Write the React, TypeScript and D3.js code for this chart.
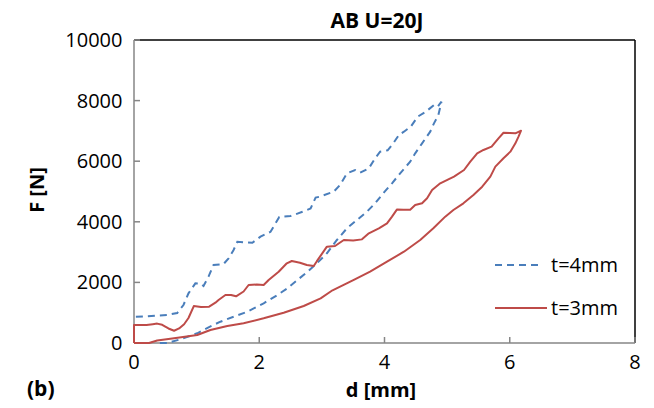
import React from "react";
import * as d3 from "d3";

const title = "AB U=20J";
const xLabel = "d [mm]";
const yLabel = "F [N]";
const panelLabel = "(b)";
const xTicks = [0, 2, 4, 6, 8];
const yTicks = [0, 2000, 4000, 6000, 8000, 10000];

const seriesNames = ["t=4mm", "t=3mm"];

// t=4mm: loading branch then unloading branch
const d4 = [
  0.03, 0.2, 0.53, 0.69, 0.79, 0.87, 0.98, 1.06, 1.11, 1.19, 1.27, 1.43, 1.51, 1.59, 1.65, 1.89, 2.02, 2.18, 2.32, 2.5, 2.69, 2.82, 2.9, 2.97, 3.19, 3.29, 3.4, 3.53, 3.61, 3.75, 3.85, 3.93, 4.05, 4.14, 4.23, 4.31, 4.42, 4.53, 4.66, 4.79, 4.85, 4.91,
  4.88, 4.86, 4.79, 4.73, 4.6, 4.49, 4.41, 4.25, 4.12, 3.98, 3.85, 3.72, 3.56, 3.4, 3.24, 3.08, 2.92, 2.77, 2.61, 2.45, 2.29, 2.07, 1.81, 1.59, 1.38, 1.19, 1.01, 0.74, 0.53, 0.4,
];
const f4 = [
  868, 880, 924, 990, 1254, 1640, 1970, 1960, 1880, 2190, 2574, 2607, 2795, 3070, 3340, 3310, 3510, 3670, 4160, 4190, 4330, 4440, 4800, 4830, 4995, 5215, 5600, 5710, 5620, 5765, 6095, 6315, 6360, 6590, 6865, 6974, 7139, 7469, 7634, 7855, 7800, 7964,
  7700, 7525, 7250, 6974, 6590, 6260, 5985, 5600, 5270, 4940, 4610, 4335, 4060, 3785, 3400, 2960, 2630, 2353, 2080, 1805, 1584, 1310, 1033, 868, 703, 518, 320, 120, 0, 0,
];

// t=3mm: loading branch then unloading branch
const d3mm = [
  0, 0, 0.2, 0.3, 0.37, 0.45, 0.55, 0.64, 0.72, 0.8, 0.87, 0.955, 1.07, 1.2, 1.3, 1.35, 1.46, 1.55, 1.63, 1.75, 1.83, 1.96, 2.07, 2.15, 2.31, 2.44, 2.52, 2.65, 2.76, 2.87, 2.92, 2.97, 3.08, 3.21, 3.35, 3.5, 3.64, 3.75, 3.91, 4.04, 4.12, 4.2, 4.3, 4.41, 4.49, 4.6, 4.68, 4.76, 4.89, 5.02, 5.11, 5.27, 5.37, 5.48, 5.58, 5.71, 5.82, 5.9, 6.0, 6.09, 6.18,
  6.14, 6.09, 6.01, 5.9, 5.77, 5.69, 5.56, 5.42, 5.26, 5.1, 4.97, 4.78, 4.57, 4.31, 4.04, 3.77, 3.51, 3.17, 2.98, 2.71, 2.39, 2.07, 1.75, 1.49, 1.22, 1.01, 0.64, 0.37, 0.24, 0,
];
const f3mm = [
  0, 594, 594, 620, 640, 600, 480, 405, 480, 620, 825, 1220, 1190, 1200, 1330, 1420, 1585, 1585, 1540, 1700, 1914, 1930, 1914, 2080, 2350, 2630, 2706, 2650, 2574, 2540, 2700, 2850, 3180, 3200, 3400, 3380, 3420, 3620, 3785, 3950, 4170, 4410, 4400, 4400, 4555, 4610, 4775, 5050, 5270, 5400, 5490, 5710, 5985, 6260, 6370, 6480, 6755, 6940, 6930, 6920, 7007,
  6810, 6590, 6315, 6095, 5820, 5490, 5160, 4885, 4610, 4390, 4170, 3785, 3400, 3013, 2683, 2353, 2080, 1740, 1475, 1221, 1000, 815, 650, 561, 430, 264, 155, 80, 0, 0,
];

const W = 654;
const H = 408;
const plot = { left: 134, right: 635, top: 40, bottom: 343 };
const BLUE = "#4a7ebb";
const RED = "#be4b48";
const AXIS = "#868686";
const FONT = "'Open Sans', sans-serif";

export default function App() {
  const x = d3.scaleLinear().domain([0, 8]).range([plot.left, plot.right]);
  const y = d3.scaleLinear().domain([0, 10000]).range([plot.bottom, plot.top]);
  const line = d3
    .line<[number, number]>()
    .x((p) => x(p[0]))
    .y((p) => y(p[1]));
  const pts4 = d4.map((v, i) => [v, f4[i]] as [number, number]);
  const pts3 = d3mm.map((v, i) => [v, f3mm[i]] as [number, number]);

  return (
    <svg
      width={W}
      height={H}
      style={{ position: "absolute", left: 0, top: 0, background: "#fff" }}
      fontFamily={FONT}
    >
      <rect x={0} y={0} width={W} height={H} fill="#fff" />
      {/* frame top/right */}
      <line x1={x(0)} x2={x(8)} y1={y(10000)} y2={y(10000)} stroke="#000" strokeWidth={1.5} />
      <line x1={x(8)} x2={x(8)} y1={y(10000)} y2={y(0)} stroke="#000" strokeWidth={1.5} />
      {/* axes */}
      <line x1={x(0)} x2={x(0)} y1={y(0)} y2={y(10000)} stroke={AXIS} strokeWidth={1.5} />
      <line x1={x(0)} x2={x(8)} y1={y(0)} y2={y(0)} stroke={AXIS} strokeWidth={1.5} />
      {yTicks.map((t) => (
        <g key={"y" + t}>
          <line x1={x(0)} x2={x(0) + 6} y1={y(t)} y2={y(t)} stroke={AXIS} strokeWidth={1.5} />
          <text x={122.5} y={y(t) + 7} textAnchor="end" fontSize={20} fill="#000">
            {t}
          </text>
        </g>
      ))}
      {xTicks.map((t) => (
        <g key={"x" + t}>
          <line x1={x(t)} x2={x(t)} y1={y(0)} y2={y(0) - 6} stroke={AXIS} strokeWidth={1.5} />
          <text x={x(t)} y={369} textAnchor="middle" fontSize={20} fill="#000">
            {t}
          </text>
        </g>
      ))}
      {/* series */}
      <path d={line(pts4) || ""} fill="none" stroke={BLUE} strokeWidth={2} strokeDasharray="7,5" />
      <path d={line(pts3) || ""} fill="none" stroke={RED} strokeWidth={2} strokeLinejoin="round" />
      {/* legend */}
      <line x1={495} x2={543} y1={265} y2={265} stroke={BLUE} strokeWidth={2} strokeDasharray="7,5" />
      <text x={551} y={272} fontSize={20} fill="#000">{seriesNames[0]}</text>
      <line x1={495} x2={547} y1={308} y2={308} stroke={RED} strokeWidth={2} />
      <text x={551} y={315} fontSize={20} fill="#000">{seriesNames[1]}</text>
      {/* titles */}
      <text x={377} y={28} textAnchor="middle" fontSize={21} fontWeight="bold" fill="#000">
        {title}
      </text>
      <text
        transform={`translate(44,190) rotate(-90)`}
        textAnchor="middle"
        fontSize={20}
        fontWeight="bold"
        fill="#000"
      >
        {yLabel}
      </text>
      <text x={381} y={397} textAnchor="middle" fontSize={20} fontWeight="bold" fill="#000">
        {xLabel}
      </text>
      <text x={27} y={396} fontSize={21} fontWeight="bold" fill="#000">
        {panelLabel}
      </text>
    </svg>
  );
}
